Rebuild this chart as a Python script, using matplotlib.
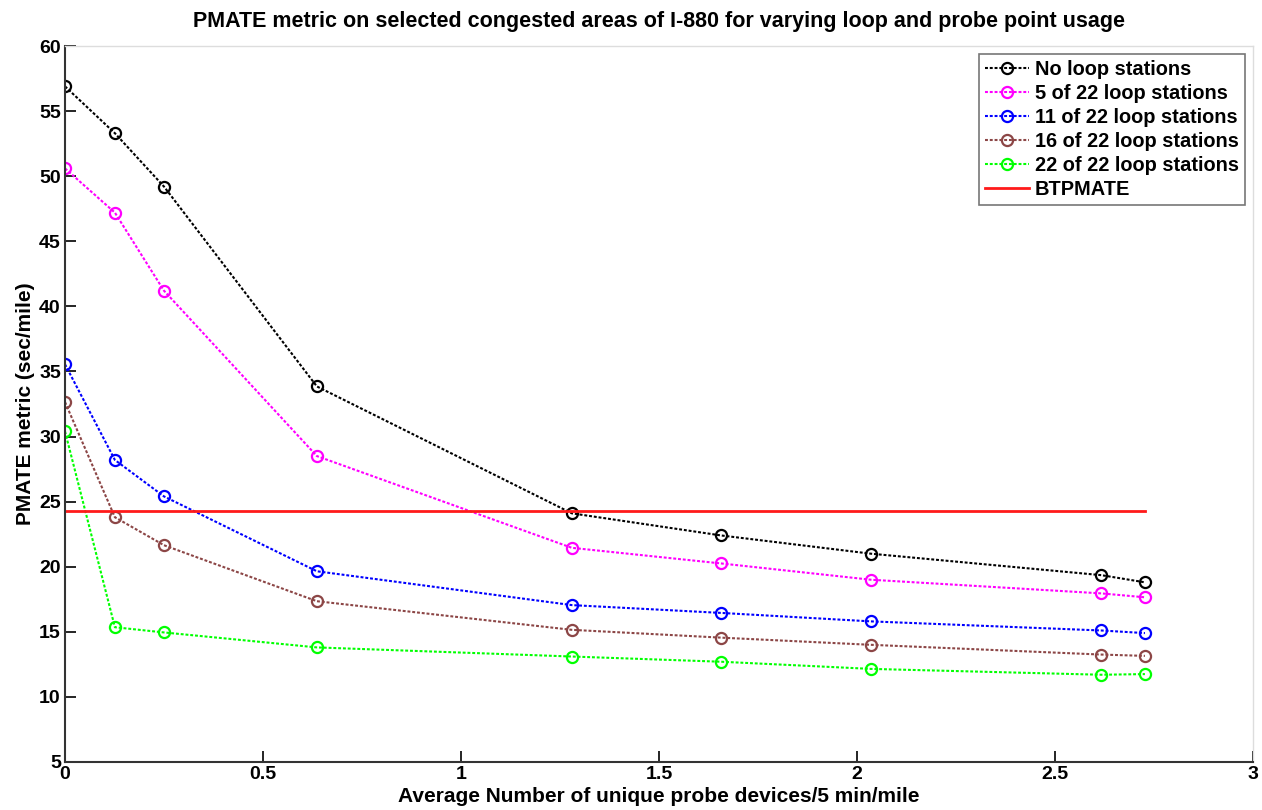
import matplotlib
matplotlib.use("Agg")
import matplotlib.pyplot as plt

plt.rcParams['font.family'] = ['Liberation Sans', 'DejaVu Sans']
plt.rcParams['font.weight'] = 'bold'

# probe density (x) shared by every series
probe_x = [0, 0.126, 0.25, 0.636, 1.28, 1.657, 2.035, 2.617, 2.727]

no_loop = [56.9, 53.3, 49.2, 33.85, 24.1, 22.4, 21.0, 19.35, 18.8]
loop_5 = [50.6, 47.2, 41.2, 28.5, 21.45, 20.25, 19.0, 17.95, 17.65]
loop_11 = [35.55, 28.2, 25.4, 19.65, 17.05, 16.45, 15.8, 15.1, 14.9]
loop_16 = [32.65, 23.8, 21.65, 17.35, 15.15, 14.55, 14.0, 13.25, 13.15]
loop_22 = [30.4, 15.35, 14.95, 13.8, 13.1, 12.7, 12.15, 11.7, 11.75]
btpmate = 24.3

labels = ["No loop stations", "5 of 22 loop stations", "11 of 22 loop stations",
          "16 of 22 loop stations", "22 of 22 loop stations"]
colors = ["black", "#ff00ff", "#0000ff", "#8c4646", "#00ff00"]

fig = plt.figure(figsize=(12.62, 8.10), dpi=100)
ax = fig.add_axes([0.0515, 0.0593, 0.9414, 0.8839])

for ys, lab, c in zip([no_loop, loop_5, loop_11, loop_16, loop_22], labels, colors):
    ax.plot(probe_x, ys, linestyle=(0, (1.4, 0.9)), color=c, lw=1.5, marker='o', ms=8,
            mfc='none', mec=c, mew=1.6, label=lab)

ax.plot([probe_x[0], probe_x[-1]], [btpmate, btpmate], color='#ff1a1a', lw=2, label="BTPMATE")

ax.set_xlim(0, 3)
ax.set_ylim(5, 60)
ax.set_xticks([0, 0.5, 1, 1.5, 2, 2.5, 3])
ax.set_xticklabels(["0", "0.5", "1", "1.5", "2", "2.5", "3"])
ax.set_yticks(range(5, 61, 5))
ax.tick_params(direction='in', length=8, width=1.2, labelsize=14, pad=3)
for s in ['left', 'bottom']:
    ax.spines[s].set_color('#333333')
    ax.spines[s].set_linewidth(1.5)
for s in ['top', 'right']:
    ax.spines[s].set_color('#dddddd')
    ax.spines[s].set_linewidth(1)

ax.set_title("PMATE metric on selected congested areas of I-880 for varying loop and probe point usage",
             fontsize=15.5, fontweight='bold', pad=14)
ax.set_xlabel("Average Number of unique probe devices/5 min/mile", fontsize=15, fontweight='bold', labelpad=3)
ax.set_ylabel("PMATE metric (sec/mile)", fontsize=15, fontweight='bold', labelpad=3)

leg = ax.legend(loc='upper right', fontsize=14.4, frameon=True, fancybox=False,
                edgecolor='#555555', handlelength=2.2, borderpad=0.3, labelspacing=0.25,
                handletextpad=0.3, borderaxespad=0.4)
leg.get_frame().set_linewidth(1.2)

fig.savefig("out.png", dpi=100)
